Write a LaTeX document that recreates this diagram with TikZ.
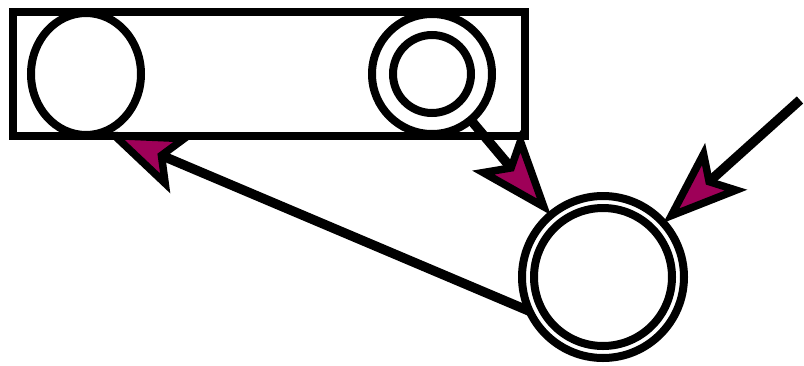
\documentclass[tikz,border=0pt]{standalone}
\usetikzlibrary{arrows.meta,shapes.geometric}
\definecolor{tippurple}{RGB}{158,0,88}
\begin{document}
\begin{tikzpicture}[x=1pt,y=-1pt,
  every node/.style={inner sep=0pt,outer sep=0pt},
  ring/.style={draw,line width=8pt,circle},
  lbox/.style={draw,line width=8pt,rectangle},
  conn/.style={line width=9.5pt,-{Stealth[length=84pt,width=62pt,inset=18pt,fill=tippurple,line width=7.5pt]}}]
\useasboundingbox (0,0) rectangle (804,365);
\node[lbox,minimum width=512pt,minimum height=124pt] (box) at (268.5,74) {};
\node[draw,line width=8pt,ellipse,minimum width=110pt,minimum height=122pt] (lc) at (86,74) {};
\node[ring,minimum size=120pt] (tr) at (432,74) {};
\node[ring,minimum size=78pt] (tri) at (432,74) {};
\node[ring,minimum size=162pt] (bc) at (603,277) {};
\node[ring,minimum size=138pt] (bci) at (603,277) {};
\coordinate (in) at (800,100);
\draw[conn] (in) -- (bc);
\draw[conn] (tr) -- (bc);
\draw[conn] (bc.205) -- (lc.-72);
\end{tikzpicture}
\end{document}
